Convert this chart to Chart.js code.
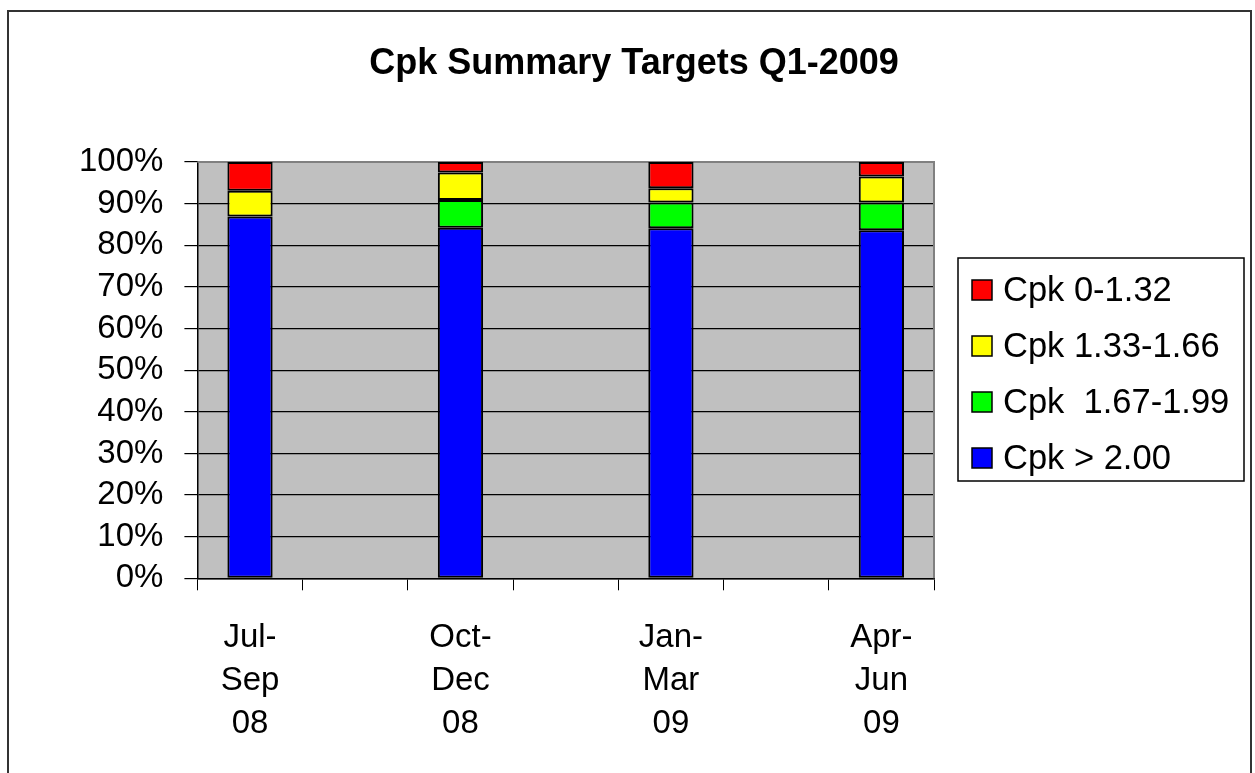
<!DOCTYPE html>
<html>
<head>
<meta charset="utf-8">
<script src="https://cdn.jsdelivr.net/npm/chart.js@4"></script>
<style>
  html, body { margin: 0; padding: 0; background: #fff; }
  #wrap { width: 1255px; height: 773px; }
</style>
</head>
<body>
<div id="wrap"><canvas id="myChart" width="1255" height="773"></canvas></div>
<script>
// categories - empty slots between quarters as in the original sheet
var quarters = [["Jul-", "Sep", "08"], "", ["Oct-", "Dec", "08"], "", ["Jan-", "Mar", "09"], "", ["Apr-", "Jun", "09"]];

// percent of parts per Cpk band
var cpkOver200 = [86.9, null, 84.2, null, 84.1, null, 83.6];
var cpk167to199 = [0, null, 6.7, null, 6.2, null, 6.7];
var cpk133to166 = [6.2, null, 6.6, null, 3.4, null, 6.2];
var cpk0to132 = [6.9, null, 2.5, null, 6.3, null, 3.5];

var yTicks = [0, 10, 20, 30, 40, 50, 60, 70, 80, 90, 100];

var chartTitle = 'Cpk Summary Targets Q1-2009';

var FONT = "'Liberation Sans', Arial, sans-serif";

// grey plot area, frame, outer border, title and the boxed legend
var excelLook = {
    id: 'excelLook',
    beforeDraw: function (chart) {
        var ctx = chart.ctx, a = chart.chartArea;
        ctx.save();
        ctx.fillStyle = '#C0C0C0';
        ctx.fillRect(a.left, a.top, a.right - a.left, a.bottom - a.top);
        ctx.restore();
    },
    beforeDatasetsDraw: function (chart) {
        var ctx = chart.ctx, a = chart.chartArea;
        ctx.save();
        ctx.strokeStyle = '#808080';
        ctx.lineWidth = 2;
        ctx.beginPath();
        ctx.moveTo(a.left, a.top);
        ctx.lineTo(a.right, a.top);
        ctx.lineTo(a.right, a.bottom);
        ctx.stroke();
        ctx.restore();
    },
    afterDraw: function (chart) {
        var ctx = chart.ctx, a = chart.chartArea;
        ctx.save();
        // outer chart border
        ctx.strokeStyle = '#333';
        ctx.lineWidth = 2;
        ctx.beginPath();
        ctx.moveTo(8, 773);
        ctx.lineTo(8, 11);
        ctx.lineTo(1251, 11);
        ctx.lineTo(1251, 773);
        ctx.stroke();

        // title, centred on the whole chart
        ctx.fillStyle = '#000';
        ctx.font = 'bold 36px ' + FONT;
        ctx.textAlign = 'center';
        ctx.textBaseline = 'middle';
        ctx.fillText(chartTitle, 634, 64);

        // legend
        var lx = a.right + 24, ly = 258, lw = 286, lh = 223;
        ctx.textAlign = 'left';
        ctx.fillStyle = '#fff';
        ctx.fillRect(lx, ly, lw, lh);
        ctx.strokeStyle = '#000';
        ctx.lineWidth = 1.5;
        ctx.strokeRect(lx, ly, lw, lh);
        var sets = chart.data.datasets.slice().reverse();
        ctx.font = '34.5px ' + FONT;
        sets.forEach(function (ds, i) {
            var cy = ly + 32 + i * 56;
            ctx.fillStyle = ds.backgroundColor;
            ctx.fillRect(lx + 14, cy - 10, 20, 20);
            ctx.strokeStyle = '#000';
            ctx.lineWidth = 1.5;
            ctx.strokeRect(lx + 14, cy - 10, 20, 20);
            ctx.fillStyle = '#000';
            ctx.fillText(ds.label, lx + 45, cy + 1);
        });
        ctx.restore();
    }
};

var ctx = document.getElementById('myChart').getContext('2d');
var chart = new Chart(ctx, {
    type: 'bar',
    data: {
        labels: quarters,
        datasets: [
            { label: 'Cpk > 2.00', data: cpkOver200, backgroundColor: '#0000FF' },
            { label: 'Cpk  1.67-1.99', data: cpk167to199, backgroundColor: '#00FF00' },
            { label: 'Cpk 1.33-1.66', data: cpk133to166, backgroundColor: '#FFFF00' },
            { label: 'Cpk 0-1.32', data: cpk0to132, backgroundColor: '#FF0000' }
        ]
    },
    options: {
        responsive: false,
        animation: false,
        datasets: {
            bar: {
                borderColor: '#000',
                borderWidth: 2,
                borderSkipped: false,
                categoryPercentage: 1,
                barPercentage: 0.43
            }
        },
        layout: { padding: { left: 58, right: 321, top: 162, bottom: 2 } },
        plugins: {
            legend: { display: false },
            tooltip: { enabled: false },
            title: { display: false }
        },
        scales: {
            x: {
                stacked: true,
                offset: true,
                grid: {
                    offset: true,
                    drawOnChartArea: false,
                    color: '#000',
                    tickLength: 12
                },
                border: { color: '#000', width: 1.5 },
                ticks: {
                    color: '#000',
                    padding: 26,
                    maxRotation: 0,
                    autoSkip: false,
                    font: { family: FONT, size: 33, lineHeight: 1.3 }
                }
            },
            y: {
                stacked: true,
                min: 0,
                max: 100,
                afterBuildTicks: function (axis) {
                    axis.ticks = yTicks.map(function (v) { return { value: v }; });
                },
                grid: {
                    color: function (c) { return c.tick && c.tick.value === 100 ? 'rgba(0,0,0,0)' : '#000'; },
                    tickColor: '#000',
                    tickLength: 13,
                    lineWidth: 1.2
                },
                border: { color: '#000', width: 1.5 },
                ticks: {
                    color: '#000',
                    padding: 21,
                    autoSkip: false,
                    font: { family: FONT, size: 33 },
                    callback: function (v) { return v + '%'; }
                }
            }
        }
    },
    plugins: [excelLook]
});
</script>
</body>
</html>
